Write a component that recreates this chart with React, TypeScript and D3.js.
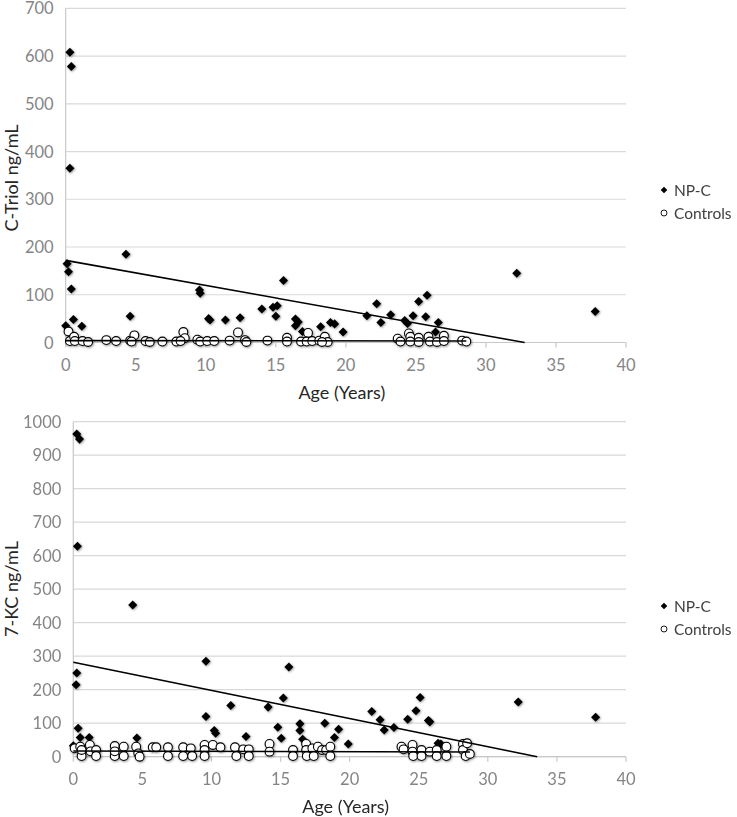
import React from "react";
import * as d3 from "d3";

// ---------- DATA ----------
const xTicks = [0, 5, 10, 15, 20, 25, 30, 35, 40];
const triolTicks = [0, 100, 200, 300, 400, 500, 600, 700];
const kcTicks = [0, 100, 200, 300, 400, 500, 600, 700, 800, 900, 1000];
const seriesNames = ["NP-C", "Controls"];

const triolNPC: [number, number][] = [
  [0.3, 608], [0.4, 578], [0.3, 365], [0.1, 165], [0.2, 148], [0.4, 112],
  [0.0, 35], [0.55, 48], [1.15, 34], [4.3, 185], [4.6, 55],
  [9.55, 110], [9.6, 103], [10.2, 50], [10.3, 47], [11.4, 47], [12.45, 52],
  [14.0, 70], [14.8, 74], [15.1, 77], [15.0, 55], [15.55, 130],
  [16.4, 49], [16.6, 43], [16.4, 35], [16.9, 23], [18.2, 33], [18.9, 42],
  [19.2, 39], [19.8, 22], [21.5, 56], [22.2, 81], [22.5, 42], [23.2, 58],
  [24.2, 46], [24.4, 40], [24.8, 56], [25.2, 86], [25.8, 99], [25.7, 54],
  [26.6, 42], [26.4, 22], [32.2, 145], [37.8, 65],
];

const triolCtrl: [number, number][] = [
  [0.2, 23], [0.3, 3], [0.6, 12], [0.65, 3], [1.2, 3], [1.6, 1], [2.9, 5],
  [3.6, 3], [4.6, 4], [4.9, 15], [4.7, 2], [5.7, 3], [6.0, 1], [6.9, 2],
  [7.9, 2], [8.4, 22], [8.5, 9], [8.2, 3], [9.4, 6], [9.6, 2], [10.1, 3],
  [10.6, 3], [11.7, 4], [12.3, 21], [12.8, 5], [12.9, 1], [14.4, 4],
  [15.8, 10], [15.8, 2], [16.8, 2], [17.3, 20], [17.2, 2], [17.6, 3],
  [18.1, 4], [18.5, 12], [18.7, 1], [18.3, 1], [23.7, 8], [23.9, 2],
  [24.5, 19], [24.6, 12], [24.6, 2], [25.2, 10], [25.2, 1], [25.9, 12],
  [26.0, 2], [26.5, 1], [27.0, 14], [27.0, 3], [28.3, 4], [28.6, 2],
];

const kcNPC: [number, number][] = [
  [0.25, 963], [0.45, 948], [0.3, 628], [4.3, 453], [0.25, 250], [0.2, 215],
  [0.35, 85], [0.0, 33], [0.5, 57], [1.15, 57], [4.6, 56], [9.6, 285],
  [9.6, 120], [10.2, 78], [10.3, 70], [11.4, 153], [12.5, 60], [14.1, 148],
  [15.2, 175], [15.6, 268], [14.8, 88], [15.05, 55], [16.4, 98], [16.4, 78],
  [16.6, 52], [18.2, 100], [18.9, 57], [19.2, 82], [19.9, 38], [21.6, 135],
  [22.2, 110], [22.5, 80], [23.2, 87], [24.2, 112], [24.8, 137], [25.1, 177],
  [25.7, 108], [25.8, 104], [26.4, 40], [26.6, 38], [32.2, 163], [37.8, 118],
];

const kcCtrl: [number, number][] = [
  [0.1, 25], [0.5, 30], [0.6, 2], [0.6, 20], [1.2, 35], [1.25, 16], [1.65, 20],
  [1.65, 2], [3.0, 32], [3.0, 2], [3.0, 16], [3.65, 30], [3.65, 2], [4.55, 30],
  [4.7, 10], [4.8, 0], [5.75, 28], [6.0, 28], [6.85, 28], [6.85, 2], [7.95, 28],
  [7.95, 2], [8.5, 25], [8.6, 2], [9.5, 35], [9.5, 20], [9.5, 2], [10.1, 35],
  [10.65, 28], [11.7, 28], [11.8, 2], [12.3, 22], [12.7, 22], [12.7, 2],
  [14.2, 38], [14.2, 15], [15.9, 20], [15.9, 2], [16.85, 38], [16.85, 20],
  [16.9, 2], [17.3, 25], [17.4, 2], [17.7, 30], [18.0, 20], [18.3, 20],
  [18.6, 2], [18.6, 30], [23.75, 30], [23.9, 22], [24.55, 35], [24.55, 15],
  [24.6, 2], [25.2, 20], [25.2, 2], [25.8, 15], [26.3, 20], [26.3, 2],
  [27.0, 30], [27.0, 2], [28.2, 38], [28.2, 20], [28.4, 2], [28.5, 40], [28.7, 8],
];

// linear trendlines: [intercept, slope]
const triolTrendNPC: [number, number] = [172, -5.25];
const triolTrendCtrl: [number, number] = [4, -0.03];
const kcTrendNPC: [number, number] = [282, -8.4];
const kcTrendCtrl: [number, number] = [17, -0.1];

// ---------- DRAWING ----------
const FONT = "Lato, 'Open Sans', sans-serif";

type PanelProps = {
  left: number; right: number; top: number; bottom: number;
  yMax: number; yTicks: number[];
  npc: [number, number][]; ctrl: [number, number][];
  trendNPC: [number, number]; trendCtrl: [number, number];
  yTitle: string; yTitleY: number;
  legendY: number;
};

function trendSegment(t: [number, number], xmax: number): [number, number][] {
  const [a, b] = t;
  let x1 = xmax;
  if (b < 0 && a + b * xmax < 0) x1 = -a / b;
  return [[0, a], [x1, a + b * x1]];
}

function Panel(p: PanelProps) {
  const x = d3.scaleLinear().domain([0, 40]).range([p.left, p.right]);
  const y = d3.scaleLinear().domain([0, p.yMax]).range([p.bottom, p.top]);
  const line = d3.line<[number, number]>().x(d => x(d[0])).y(d => y(d[1]));
  const diamond = d3.symbol().type(d3.symbolDiamond2).size(52)();
  const legDiamond = d3.symbol().type(d3.symbolDiamond2).size(28)();
  const npcXmax = d3.max(p.npc, d => d[0]) as number;
  const ctrlXmax = d3.max(p.ctrl, d => d[0]) as number;
  return (
    <g>
      {p.yTicks.map(t => (
        <line key={"g" + t} x1={p.left} x2={p.right} y1={y(t)} y2={y(t)}
          stroke="#d9d9d9" strokeWidth={1.2} />
      ))}
      <line x1={p.left} x2={p.left} y1={p.top} y2={p.bottom} stroke="#c8c8c8" strokeWidth={1.2} />
      <line x1={p.left} x2={p.right} y1={p.bottom} y2={p.bottom} stroke="#c8c8c8" strokeWidth={1.2} />
      {xTicks.map(t => (
        <g key={"x" + t}>
          <line x1={x(t)} x2={x(t)} y1={p.bottom} y2={p.bottom + 5} stroke="#c8c8c8" strokeWidth={1.2} />
          <text x={x(t)} y={p.bottom + 28} textAnchor="middle" fontSize={16.5}
            fill="#858585" fontFamily={FONT}>{t}</text>
        </g>
      ))}
      {p.yTicks.map(t => (
        <text key={"y" + t} x={p.left - 12} y={y(t) + 6} textAnchor="end" fontSize={16.5}
          fill="#858585" fontFamily={FONT}>{t}</text>
      ))}
      <text x={(p.left + p.right) / 2 - 4} y={p.bottom + 56} textAnchor="middle" fontSize={18}
        fill="#262626" fontFamily={FONT}>Age (Years)</text>
      <text transform={`translate(18,${p.yTitleY}) rotate(-90)`} textAnchor="middle" fontSize={18}
        fill="#262626" fontFamily={FONT}>{p.yTitle}</text>

      <g filter="url(#shadow)">
        {p.npc.map((d, i) => (
          <path key={"n" + i} d={diamond} transform={`translate(${x(d[0])},${y(d[1])})`} fill="#000" />
        ))}
      </g>
      <g filter="url(#shadow)">
        {p.ctrl.map((d, i) => (
          <circle key={"c" + i} cx={x(d[0])} cy={y(d[1])} r={4.4} fill="#fff" stroke="#000" strokeWidth={1.1} />
        ))}
      </g>
      <path d={line(trendSegment(p.trendNPC, npcXmax)) || ""} stroke="#000" strokeWidth={1.6} fill="none" />
      <path d={line(trendSegment(p.trendCtrl, ctrlXmax)) || ""} stroke="#000" strokeWidth={1.6} fill="none" />

      <path d={legDiamond} transform={`translate(664,${p.legendY})`} fill="#000" />
      <text x={674} y={p.legendY + 5.5} fontSize={15.5} fill="#404040" fontFamily={FONT}>{seriesNames[0]}</text>
      <circle cx={664} cy={p.legendY + 23} r={3} fill="#fff" stroke="#000" strokeWidth={0.9} />
      <text x={674} y={p.legendY + 28.5} fontSize={15.5} fill="#404040" fontFamily={FONT}>{seriesNames[1]}</text>
    </g>
  );
}

export default function App() {
  return (
    <div style={{ position: "absolute", left: 0, top: 0 }}>
      <svg width={737} height={817} style={{ display: "block", background: "#fff" }}>
        <defs>
          <filter id="shadow" x="-50%" y="-50%" width="200%" height="200%">
            <feDropShadow dx={0.8} dy={0.8} stdDeviation={0.9} floodColor="#000" floodOpacity={0.45} />
          </filter>
        </defs>
        <Panel left={65.7} right={626} top={8.3} bottom={342.5} yMax={700} yTicks={triolTicks}
          npc={triolNPC} ctrl={triolCtrl} trendNPC={triolTrendNPC} trendCtrl={triolTrendCtrl}
          yTitle="C-Triol ng/mL" yTitleY={178} legendY={190} />
        <Panel left={73.3} right={626} top={421.7} bottom={756.7} yMax={1000} yTicks={kcTicks}
          npc={kcNPC} ctrl={kcCtrl} trendNPC={kcTrendNPC} trendCtrl={kcTrendCtrl}
          yTitle="7-KC ng/mL" yTitleY={589} legendY={606} />
      </svg>
    </div>
  );
}
